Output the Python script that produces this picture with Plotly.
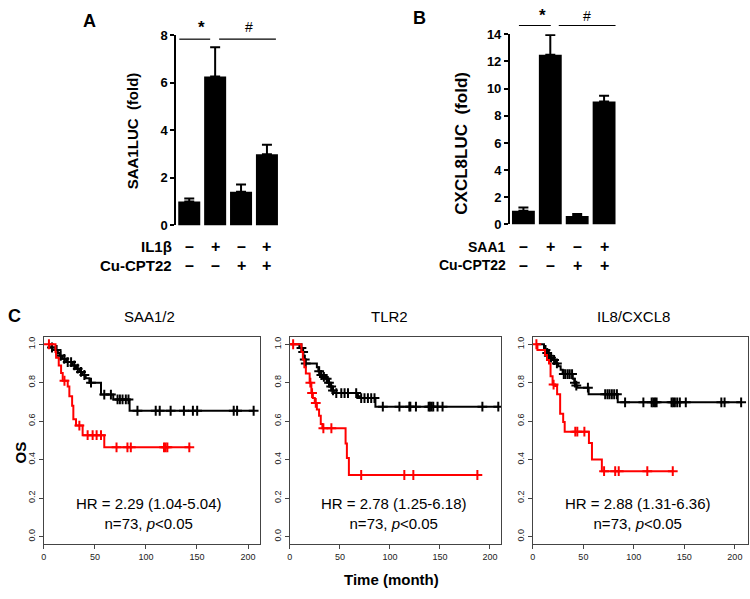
import plotly.graph_objects as go

W, H = 750, 599

# ---------------- Panel A / B data ----------------
a_values = [1.0, 6.27, 1.42, 2.99]
a_err = [0.13, 1.23, 0.30, 0.40]
b_values = [1.0, 12.5, 0.62, 9.05]
b_err = [0.25, 1.45, 0.14, 0.42]
a_ticks = [0, 2, 4, 6, 8]
b_ticks = [0, 2, 4, 6, 8, 10, 12, 14]
a_row1 = ["–", "+", "–", "+"]
a_row2 = ["–", "–", "+", "+"]
b_row1 = ["–", "+", "–", "+"]
b_row2 = ["–", "–", "+", "+"]

# ---------------- Panel C data (Kaplan-Meier) ----------------
km_titles = ["SAA1/2", "TLR2", "IL8/CXCL8"]
km_hr = ["HR = 2.29 (1.04-5.04)", "HR = 2.78 (1.25-6.18)", "HR = 2.88 (1.31-6.36)"]

saa_black_t = [4, 5.5, 11.4, 13.7, 15.3, 17.9, 21.8, 28.3, 31.5, 34.8, 38, 41, 44.6, 56, 68, 84]
saa_black_s = [1.0, 0.983, 0.97, 0.954, 0.94, 0.924, 0.907, 0.89, 0.873, 0.856, 0.84, 0.823, 0.80, 0.738, 0.713, 0.654]
saa_black_end = 206
saa_black_cens = [8, 12.5, 16.5, 20, 23.4, 26.7, 29.9, 33.2, 36.4, 39.7, 46.2, 59.2, 65.7, 72.2, 74.5,
                  77.1, 80.3, 82.9, 91.7, 109.6, 113.5, 124.2, 137.2, 146, 150.2, 186, 189.3, 205.5]
saa_red_t = [4, 11.4, 12, 14.6, 16.9, 18.5, 23.4, 25, 27.7, 28.9, 31.5, 38, 59.2]
saa_red_s = [1.0, 0.96, 0.93, 0.89, 0.85, 0.81, 0.78, 0.73, 0.68, 0.61, 0.577, 0.527, 0.464]
saa_red_end = 143.7
saa_red_cens = [5, 20.2, 34.8, 42.9, 47.8, 51.7, 56, 71.2, 81.9, 85.2, 117.7, 119.3, 121, 142.5]

tlr_black_t = [0.5, 9.5, 12.5, 13.5, 14.5, 15.5, 27, 28.5, 30, 33, 36, 38, 40, 42, 44, 68, 70, 85.5]
tlr_black_s = [1.0, 0.98, 0.96, 0.94, 0.92, 0.90, 0.88, 0.86, 0.84, 0.83, 0.82, 0.80, 0.78, 0.76, 0.746, 0.73, 0.72, 0.675]
tlr_black_end = 208.3
tlr_black_cens = [11.6, 13.3, 14.9, 15.9, 29.3, 31.5, 34, 36.8, 39.1, 41.3, 43.1, 46.4, 51.4, 54.7, 58.1,
                  66.3, 71.3, 74.6, 78, 81.3, 84.6, 92.9, 109.5, 119.4, 120.4, 126, 138.7, 140, 141.6,
                  143.3, 147.6, 152.6, 192.4, 208.3]
tlr_red_t = [0.5, 11.6, 13, 14.5, 16, 19.8, 21.5, 23, 24.9, 27, 29.2, 30.9, 32.5, 55.7, 57, 59]
tlr_red_s = [1.0, 0.96, 0.92, 0.88, 0.848, 0.80, 0.746, 0.72, 0.695, 0.66, 0.628, 0.585, 0.563, 0.484, 0.408, 0.32]
tlr_red_end = 187.4
tlr_red_cens = [3.3, 20.5, 22.2, 25.9, 33.5, 41.5, 71.3, 114.4, 123.4, 187.4]

il8_black_t = [3, 11, 13, 14.5, 17, 20, 22.5, 25, 27.5, 29.5, 39.5, 41, 42.5, 44, 55.2, 84]
il8_black_s = [1.0, 0.97, 0.955, 0.94, 0.93, 0.918, 0.90, 0.885, 0.867, 0.845, 0.82, 0.80, 0.785, 0.774, 0.74, 0.698]
il8_black_end = 206.2
il8_black_cens = [12.5, 14.2, 15.8, 18, 21, 23.8, 30.6, 32.2, 34.5, 36.5, 38.8, 41.6, 43, 54.5, 71.6,
                  73.9, 75.9, 78.2, 80.5, 83.2, 91.3, 109.4, 117.6, 119.2, 120.9, 122.5, 137.3, 138.9,
                  140.6, 142.9, 145.5, 151.4, 186.6, 189.8, 206.2]
il8_red_t = [3, 4.5, 12, 14, 16, 17.5, 19.5, 22, 24, 27, 30, 31.5, 55.5, 58.5, 68.3]
il8_red_s = [1.0, 0.97, 0.944, 0.918, 0.90, 0.834, 0.79, 0.783, 0.74, 0.638, 0.596, 0.545, 0.486, 0.40, 0.34]
il8_red_end = 139
il8_red_cens = [3.5, 20.5, 42, 44, 51, 70.5, 81.5, 85, 113.3, 138.5]

km_x_ticks = [0, 50, 100, 150, 200]
km_y_ticks = [0.0, 0.2, 0.4, 0.6, 0.8, 1.0]

FONT = "Liberation Sans"


def px(x):
    return x / W


def py(y):
    return 1 - y / H


def step_at(ts, ss, t):
    v = ss[0]
    for ti, si in zip(ts, ss):
        if ti <= t:
            v = si
    return v


fig = go.Figure()

# ---------------- Bars ----------------
for vals, err, xa, ya in [(a_values, a_err, "x", "y"), (b_values, b_err, "x2", "y2")]:
    fig.add_trace(go.Bar(
        x=list(range(len(vals))), y=vals, xaxis=xa, yaxis=ya,
        marker=dict(color="black", line=dict(width=0)),
        error_y=dict(type="data", array=err, arrayminus=[0] * len(err), symmetric=False,
                     color="black", thickness=2, width=5),
        showlegend=False))

# ---------------- KM curves ----------------
km_sets = [
    (saa_black_t, saa_black_s, saa_black_end, saa_black_cens, saa_red_t, saa_red_s, saa_red_end, saa_red_cens),
    (tlr_black_t, tlr_black_s, tlr_black_end, tlr_black_cens, tlr_red_t, tlr_red_s, tlr_red_end, tlr_red_cens),
    (il8_black_t, il8_black_s, il8_black_end, il8_black_cens, il8_red_t, il8_red_s, il8_red_end, il8_red_cens),
]
for i, (bt, bs, be, bc, rt, rs, re_, rc) in enumerate(km_sets):
    xa, ya = "x%d" % (i + 3), "y%d" % (i + 3)
    for ts, ss, te, cens, col in [(bt, bs, be, bc, "black"), (rt, rs, re_, rc, "#ff0000")]:
        fig.add_trace(go.Scatter(
            x=ts + [te], y=ss + [ss[-1]], mode="lines", line=dict(color=col, width=2, shape="hv"),
            xaxis=xa, yaxis=ya, showlegend=False, hoverinfo="skip"))
        fig.add_trace(go.Scatter(
            x=cens, y=[step_at(ts, ss, c) for c in cens], mode="markers",
            marker=dict(symbol="cross-thin", size=7, line=dict(color=col, width=2)),
            xaxis=xa, yaxis=ya, showlegend=False, hoverinfo="skip"))

layout = dict(
    width=W, height=H, margin=dict(l=0, r=0, t=0, b=0),
    paper_bgcolor="white", plot_bgcolor="white",
    font=dict(family=FONT, color="black"),
    bargap=0.15,
)

bar_x = dict(range=[-0.5, 3.5], showline=False, showticklabels=False, ticks="", showgrid=False, zeroline=False)
bar_y = dict(showline=True, linewidth=2, linecolor="black", ticks="outside", ticklen=4, tickwidth=2,
             tickcolor="black", showgrid=False, zeroline=False)
layout["xaxis"] = dict(bar_x, domain=[px(174), px(278)], anchor="y")
layout["yaxis"] = dict(bar_y, domain=[py(224), py(29)], anchor="x", range=[0, 8], tickvals=a_ticks,
                       tickfont=dict(size=13, family=FONT, weight="bold"))
layout["xaxis2"] = dict(bar_x, domain=[px(509), px(617)], anchor="y2")
layout["yaxis2"] = dict(bar_y, domain=[py(223), py(28)], anchor="x2", range=[0, 14], tickvals=b_ticks,
                        tickfont=dict(size=13, family=FONT, weight="bold"))

km_dom = [(41, 258, 211.7), (288, 500, 211), (532, 748, 213)]
for i, (l, r, xmax) in enumerate(km_dom):
    n = i + 3
    layout["xaxis%d" % n] = dict(domain=[px(l), px(r)], anchor="y%d" % n, range=[0, xmax],
                                 tickvals=km_x_ticks, ticks="outside", ticklen=4, tickcolor="#444",
                                 showline=True, mirror=True, linecolor="#444", linewidth=1.3,
                                 showgrid=False, zeroline=False,
                                 tickfont=dict(size=9, color="#222", family=FONT))
    layout["yaxis%d" % n] = dict(domain=[py(551), py(338)], anchor="x%d" % n, range=[-0.04, 1.04],
                                 tickvals=km_y_ticks, ticktext=["%.1f" % v for v in km_y_ticks],
                                 tickangle=-90, ticks="outside", ticklen=4, tickcolor="#444",
                                 showline=True, mirror=True, linecolor="#444", linewidth=1.3,
                                 showgrid=False, zeroline=False,
                                 tickfont=dict(size=9, color="#222", family=FONT))

ann = []


def txt(x, y, s, size, bold=False, xanchor="center", angle=0, xref="paper", color="black"):
    ann.append(dict(x=x if xref != "paper" else px(x), y=py(y), xref=xref, yref="paper", text=s,
                    showarrow=False, xanchor=xanchor, yanchor="middle", textangle=angle,
                    font=dict(size=size, family=FONT, color=color, weight="bold" if bold else "normal")))


# panel letters
txt(87, 14, "A", 18, True)
txt(418, 11, "B", 18, True)
txt(12, 317, "C", 18, True)

# y titles
txt(130, 127, "SAA1LUC  (fold)", 15, True, angle=-90)
txt(460, 140, "CXCL8LUC  (fold)", 17, True, angle=-90)

# significance marks
txt(199, 21, "*", 17, True)
txt(247, 21, "#", 14, False)
txt(542, 9, "*", 17, True)
txt(586, 9, "#", 14, False)

shapes = []
for (x0, x1, yy) in [(177, 208, 33), (217, 274, 33), (518, 550, 19), (558, 615, 19)]:
    shapes.append(dict(type="line", xref="paper", yref="paper", x0=px(x0), x1=px(x1), y0=py(yy), y1=py(yy),
                       line=dict(color="black", width=1.2)))

# treatment rows
txt(172, 246, "IL1β", 15, True, xanchor="right")
txt(172, 265, "Cu-CPT22", 15, True, xanchor="right")
txt(507, 246, "SAA1", 14, True, xanchor="right")
txt(507, 265, "Cu-CPT22", 14, True, xanchor="right")
for i, s in enumerate(a_row1):
    txt(i, 246, s, 16, True, xref="x")
for i, s in enumerate(a_row2):
    txt(i, 265, s, 16, True, xref="x")
for i, s in enumerate(b_row1):
    txt(i, 246, s, 16, True, xref="x2")
for i, s in enumerate(b_row2):
    txt(i, 265, s, 16, True, xref="x2")

# KM texts
for cx, title in zip([147, 388, 633], km_titles):
    txt(cx, 317, title, 15, False)
for cx, hr in zip([147, 393, 638], km_hr):
    txt(cx, 519, hr + "<br>n=73, <i>p</i>&lt;0.05", 15, False)

txt(18, 457, "OS", 15, True, angle=-90)
txt(390, 587, "Time (month)", 15, True)

layout["annotations"] = ann
layout["shapes"] = shapes
fig.update_layout(**layout)
fig.write_html("out.html", config={"displayModeBar": False},
               post_script="document.body.style.margin='0px';")
